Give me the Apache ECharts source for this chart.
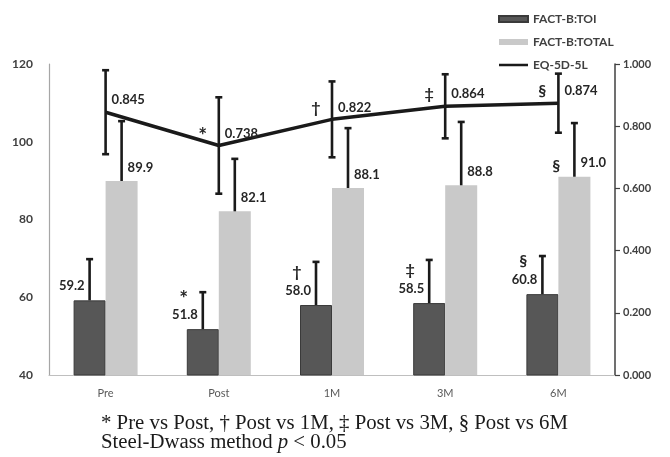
<!DOCTYPE html>
<html><head><meta charset="utf-8">
<script src="https://cdn.jsdelivr.net/npm/echarts@6/dist/echarts.min.js"></script>
<style>html,body{margin:0;padding:0;background:#fff}#c{width:670px;height:457px}</style>
</head><body><div id="c"></div>
<script>
const categories = ['Pre', 'Post', '1M', '3M', '6M'];
const toi = [59.2, 51.8, 58.0, 58.5, 60.8];
const toiSD = [10.6, 9.5, 11.1, 11.1, 9.8];
const total = [89.9, 82.1, 88.1, 88.8, 91.0];
const totalSD = [15.4, 13.5, 15.4, 16.3, 13.8];
const eq = [0.845, 0.738, 0.822, 0.864, 0.874];
const eqSD = [0.135, 0.155, 0.122, 0.103, 0.095];
const toiMarks = ['', '*', '†', '‡', '§'];
const totalMarks = ['', '', '', '', '§'];
const eqMarks = ['', '*', '†', '‡', '§'];
const leftTicks = [40, 60, 80, 100, 120];
const rightTicks = [0, 0.2, 0.4, 0.6, 0.8, 1.0];

const FONT = 'Lato';
const BW = 32;
const chart = echarts.init(document.getElementById('c'), null, {renderer: 'canvas'});

function errSeries(name, vals, sds, yIdx, dx, both, z) {
  return {
    type: 'custom', name: name, yAxisIndex: yIdx, z: z, silent: true,
    data: vals.map((v, i) => [i, v + sds[i], both ? v - sds[i] : v]),
    renderItem: function (params, api) {
      const i = api.value(0);
      const p1 = api.coord([i, api.value(1)]);
      const p2 = api.coord([i, api.value(2)]);
      const x = p1[0] + dx;
      const style = {stroke: '#1a1a1a', lineWidth: 2.6};
      const ch = [
        {type: 'line', shape: {x1: x, y1: p1[1], x2: x, y2: p2[1]}, style: style},
        {type: 'line', shape: {x1: x - 3.5, y1: p1[1], x2: x + 3.5, y2: p1[1]}, style: style}
      ];
      if (both) ch.push({type: 'line', shape: {x1: x - 3.5, y1: p2[1], x2: x + 3.5, y2: p2[1]}, style: style});
      return {type: 'group', children: ch};
    }
  };
}

function markSeries(marks, vals, yIdx, dx, dy, fs) {
  return {
    type: 'custom', yAxisIndex: yIdx, z: 20, silent: true,
    data: vals.map((v, i) => [i, v]),
    renderItem: function (params, api) {
      const i = api.value(0);
      const m = marks[i];
      if (!m) return null;
      const p = api.coord([i, api.value(1)]);
      const big = m === '*';
      return {type: 'text', x: p[0] + dx, y: p[1] + dy + (big ? 3 : 0),
        style: {text: m, font: 'bold ' + (big ? fs + 5 : fs) + 'px ' + FONT, fill: '#262626', align: 'center', verticalAlign: 'middle'}};
    }
  };
}

const option = {
  animation: false,
  textStyle: {fontFamily: FONT},
  grid: {left: 49, right: 55, top: 64, bottom: 82, containLabel: false},
  legend: {
    orient: 'vertical', left: 493, top: 8, itemWidth: 29, itemHeight: 6, itemGap: 11,
    textStyle: {fontFamily: FONT, fontWeight: 'bold', fontSize: 12, color: '#404040'},
    data: [
      {name: 'FACT-B:TOI', icon: 'rect'},
      {name: 'FACT-B:TOTAL', icon: 'rect'},
      {name: 'EQ-5D-5L', icon: 'path://M0,0 L30,0 L30,0.01 L0,0.01 Z M0,1.6 L30,1.6 L30,4.4 L0,4.4 Z M0,5.99 L30,5.99 L30,6 L0,6 Z'}
    ]
  },
  xAxis: {
    type: 'category', data: categories,
    axisLine: {lineStyle: {color: '#bfbfbf', width: 1.2}},
    axisTick: {show: false},
    axisLabel: {color: '#595959', fontSize: 11, margin: 13, fontFamily: FONT}
  },
  yAxis: [
    {type: 'value', min: leftTicks[0], max: leftTicks[leftTicks.length - 1], interval: 20,
      splitLine: {show: false}, axisTick: {show: false},
      axisLine: {show: true, lineStyle: {color: '#a6a6a6', width: 1.2}},
      axisLabel: {color: '#404040', fontWeight: 'bold', fontSize: 12, margin: 16, fontFamily: FONT}},
    {type: 'value', min: rightTicks[0], max: rightTicks[rightTicks.length - 1], interval: 0.2,
      splitLine: {show: false},
      axisTick: {show: true, length: 5, lineStyle: {color: '#404040', width: 1.2}},
      axisLine: {show: true, lineStyle: {color: '#404040', width: 1.5}},
      axisLabel: {color: '#404040', fontWeight: 'bold', fontSize: 11, margin: 8, fontFamily: FONT,
        formatter: v => v.toFixed(3)}}
  ],
  series: [
    {name: 'FACT-B:TOI', type: 'bar', data: toi, barWidth: BW, barGap: '0%', z: 2,
      itemStyle: {color: '#575757', borderColor: '#3a3a3a', borderWidth: 1},
      label: {show: true, position: 'top', align: 'right', offset: [-5, 0], distance: 8,
        formatter: p => p.value.toFixed(1), fontFamily: FONT, fontWeight: 'bold', fontSize: 13, color: '#262626'}},
    {name: 'FACT-B:TOTAL', type: 'bar', data: total, barWidth: BW, barGap: '0%', z: 2,
      itemStyle: {color: '#c9c9c9'},
      label: {show: true, position: 'top', align: 'left', offset: [6, 0], distance: 7,
        formatter: p => p.value.toFixed(1), fontFamily: FONT, fontWeight: 'bold', fontSize: 13, color: '#262626'}},
    {name: 'EQ-5D-5L', type: 'line', yAxisIndex: 1, data: eq, z: 10, symbol: 'none',
      lineStyle: {color: '#1a1a1a', width: 3.5}, itemStyle: {color: '#1a1a1a'}},
    {name: 'eqLabels', type: 'scatter', yAxisIndex: 1, data: eq, z: 12, symbolSize: 0, silent: true,
      itemStyle: {color: '#1a1a1a', opacity: 1},
      label: {show: true, position: 'right', distance: 6, offset: [0, -12], opacity: 1,
        formatter: p => p.value.toFixed(3), fontFamily: FONT, fontWeight: 'bold', fontSize: 13, color: '#262626'}},
    errSeries('e1', toi, toiSD, 0, -BW / 2, false, 5),
    errSeries('e2', total, totalSD, 0, BW / 2, false, 5),
    errSeries('e3', eq, eqSD, 1, 0, true, 11),
    markSeries(toiMarks, toi, 0, -35, -33, 16),
    markSeries(totalMarks, total, 0, -2, -11, 16),
    markSeries(eqMarks, eq, 1, -16, -12, 16)
  ],
  graphic: [
    {type: 'text', x: 101, y: 424, style: {text: '* Pre vs Post, † Post vs 1M, ‡ Post vs 3M, § Post vs 6M',
      font: '20.8px "Liberation Serif"', fill: '#1a1a1a', verticalAlign: 'middle'}},
    {type: 'text', x: 101, y: 443, style: {
      text: '{a|Steel-Dwass method }{b|p}{a| < 0.05}', verticalAlign: 'middle',
      rich: {a: {font: '20.8px "Liberation Serif"', fill: '#1a1a1a'}, b: {font: 'italic 20.8px "Liberation Serif"', fill: '#1a1a1a'}}}}
  ]
};
chart.setOption(option);
</script></body></html>
